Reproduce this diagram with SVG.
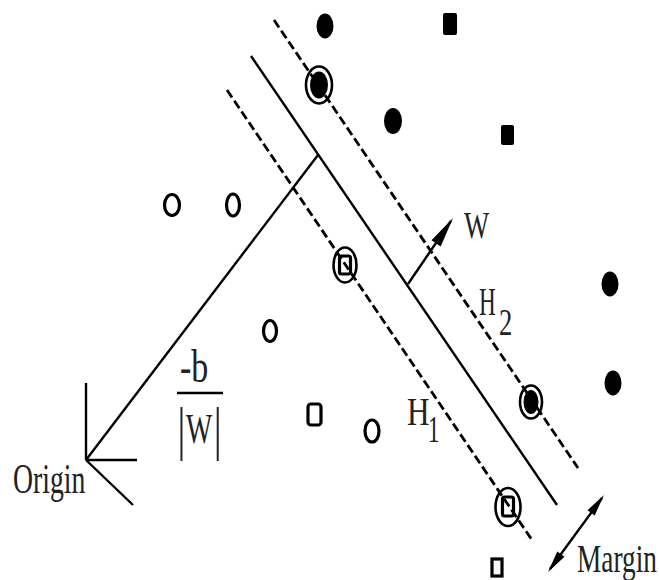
<svg xmlns="http://www.w3.org/2000/svg" width="659" height="580" viewBox="0 0 659 580">
<style>
.ln{stroke:#000;stroke-width:2.4;fill:none}
.dl{stroke:#000;stroke-width:2.8;fill:none;stroke-dasharray:9 4}
.fd{fill:#000}
.od{fill:none;stroke:#000;stroke-width:3.2}
.rg{fill:none;stroke:#000;stroke-width:2.6}
.hd{fill:#000}
text{font-family:"Liberation Serif","Times New Roman",serif;fill:#222}
</style>
<rect width="659" height="580" fill="#fff"/>
<g id="connectors">
<line id="H2" class="dl" x1="274" y1="20" x2="578" y2="468"/>
<line id="hyperplane" class="ln" x1="251" y1="56" x2="557" y2="505"/>
<line id="H1" class="dl" x1="227" y1="90" x2="532" y2="540"/>
<line id="offset" class="ln" x1="86" y1="460" x2="318" y2="155"/>
<line id="w-vector" class="ln" x1="408" y1="284" x2="451" y2="221"/>
<polygon class="hd" points="453,218 440.7,246.4 431.5,240.2"/>
<line id="margin" class="ln" x1="550" y1="569" x2="602" y2="498"/>
<polygon class="hd" points="604,495 594.7,515.4 587.5,510.2"/>
<polygon class="hd" points="548,572 564.5,556.8 557.3,551.6"/>
<line class="ln" stroke-width="2.6" x1="86" y1="383" x2="86" y2="460"/>
<line class="ln" stroke-width="2.6" x1="86" y1="460" x2="137" y2="460"/>
<line class="ln" stroke-width="2.6" x1="86" y1="460" x2="133" y2="505"/>
</g>
<g id="class-pos">
<ellipse class="fd" cx="325" cy="26" rx="8.5" ry="12.5"/>
<rect class="fd" x="443" y="13" width="14" height="22" rx="2"/>
<ellipse class="fd" cx="393" cy="121" rx="9" ry="13"/>
<rect class="fd" x="501" y="125" width="13" height="20" rx="2"/>
<ellipse class="fd" cx="610" cy="284" rx="8.5" ry="12.5"/>
<ellipse class="fd" cx="613" cy="383" rx="8.5" ry="12.5"/>
</g>
<g id="sv-pos">
<ellipse class="rg" cx="319" cy="85" rx="13" ry="18.5"/>
<ellipse class="fd" cx="319" cy="85" rx="9" ry="13.5"/>
<ellipse class="rg" cx="531" cy="402" rx="11" ry="16.5"/>
<ellipse class="fd" cx="531" cy="402" rx="7.5" ry="12"/>
</g>
<g id="class-neg">
<ellipse class="od" cx="172" cy="205" rx="7.5" ry="10.5"/>
<ellipse class="od" cx="233" cy="205" rx="6.5" ry="11"/>
<ellipse class="od" cx="270" cy="331" rx="6.5" ry="10.5"/>
<rect class="od" x="308" y="404" width="13" height="21" rx="3"/>
<ellipse class="od" cx="372" cy="431" rx="7" ry="11"/>
<rect class="od" x="492" y="559" width="10" height="17"/>
</g>
<g id="sv-neg">
<ellipse class="rg" cx="345" cy="265" rx="11.5" ry="17.5"/>
<rect class="od" x="339.5" y="256" width="11" height="18" rx="2"/>
<ellipse class="rg" cx="508" cy="507" rx="12.5" ry="19"/>
<rect class="od" x="502.5" y="497" width="11" height="19" rx="2"/>
</g>
<g id="labels">
<text font-size="38" transform="translate(464,238) scale(0.7,1)">W</text>
<text font-size="40" transform="translate(479,315) scale(0.58,1)">H</text>
<text font-size="38" transform="translate(499,335) scale(0.7,1)">2</text>
<text font-size="40" transform="translate(407,425) scale(0.78,1)">H</text>
<text font-size="38" transform="translate(428,442) scale(0.6,1)">1</text>
<text font-size="46" transform="translate(180,382) scale(0.74,1)">-b</text>
<line x1="177" y1="393" x2="223" y2="393" stroke="#000" stroke-width="2.5"/>
<text transform="scale(0.66,1)" y="448"><tspan x="269" font-size="60">|</tspan><tspan x="282" y="443" font-size="42">W</tspan><tspan x="324" y="448" font-size="60">|</tspan></text>
<text font-size="42" transform="translate(13,493) scale(0.66,1)">Origin</text>
<text font-size="39" transform="translate(577,572) scale(0.7,1)">Margin</text>
</g>
</svg>
